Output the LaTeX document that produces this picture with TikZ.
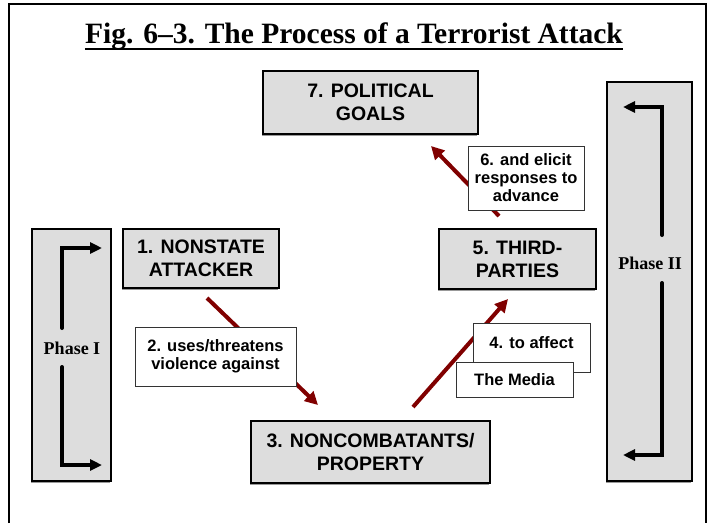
\documentclass[tikz,border=0pt]{standalone}
\usepackage{fontspec}
\setmainfont{Liberation Serif}
\setsansfont{Liberation Sans}
\usetikzlibrary{arrows.meta,shadows}
\definecolor{DarkRed}{HTML}{800000}
\definecolor{BoxGray}{HTML}{DDDDDD}

\begin{document}
\begin{tikzpicture}[x=1pt,y=-1pt,
  stage/.style={draw=black, line width=1.5pt, fill=BoxGray, align=center, inner sep=0pt,
    font=\sffamily\bfseries\fontsize{19.5}{23}\selectfont,
    drop shadow={shadow xshift=-1.2pt, shadow yshift=-1.5pt, fill=gray, opacity=0.8}},
  phasetxt/.style={font=\rmfamily\bfseries\fontsize{18}{20}\selectfont, inner sep=0pt},
  lbl/.style={draw=black!80, line width=0.8pt, fill=white, align=center, inner sep=0pt,
    font=\sffamily\bfseries\fontsize{16.5}{18}\selectfont},
  arr/.style={-{Triangle[length=13pt,width=13pt]}, line width=4pt, DarkRed},
  flow/.style={-{Triangle[length=12pt,width=11pt]}, line width=4pt, line cap=round, black}
]
\useasboundingbox (0,0) rectangle (708,523);
\draw[line width=2pt] (9,523) -- (9,4) -- (706,4) -- (706,523);

\node[anchor=base, inner sep=0pt, font=\rmfamily\bfseries\fontsize{29.5}{32}\selectfont] (title) at (354,43)
  {Fig. 6--3. The Process of a Terrorist Attack};
\draw[line width=2.5pt] ([yshift=-6pt]title.base west) -- ([yshift=-6pt]title.base east);

% phase columns
\node[stage, minimum width=79, minimum height=252] (ph1) at (71.5,355) {};
\node[stage, minimum width=85, minimum height=399] (ph2) at (649.5,281.5) {};
\node[phasetxt] (ph1t) at (72,348) {Phase I};
\node[phasetxt] (ph2t) at (650,263) {Phase II};

\coordinate (p1a) at (62,328);  \coordinate (p1b) at (102,248);
\coordinate (p1c) at (62,367);  \coordinate (p1d) at (102,465);
\coordinate (p2a) at (662,235); \coordinate (p2b) at (623,107);
\coordinate (p2c) at (662,283); \coordinate (p2d) at (623,455);
\draw[flow] (p1a) |- (p1b);
\draw[flow] (p1c) |- (p1d);
\draw[flow] (p2a) |- (p2b);
\draw[flow] (p2c) |- (p2d);

% stages
\node[stage, minimum width=215, minimum height=63] (goals) at (370.5,102.5) {7. POLITICAL\\GOALS};
\node[stage, minimum width=156, minimum height=59] (attacker) at (201,258.5) {1. NONSTATE\\ATTACKER};
\node[stage, minimum width=157, minimum height=60] (third) at (517.5,259) {5. THIRD-\\PARTIES};
\node[stage, minimum width=239, minimum height=62] (victims) at (370.5,452) {3. NONCOMBATANTS/\\PROPERTY};

% red arrows
\coordinate (a2s) at (207,298); \coordinate (a2e) at (318,405);
\coordinate (a4s) at (413,407); \coordinate (a4e) at (508,299);
\coordinate (a6s) at (499,216); \coordinate (a6e) at (431,146);
\draw[arr] (a2s) -- (a2e);
\draw[arr] (a4s) -- (a4e);
\draw[arr] (a6s) -- (a6e);

% labels
\node[lbl, minimum width=161, minimum height=59] (uses) at (215.5,356.5) {2. uses/threatens\\violence against};
\node[lbl, minimum width=116, minimum height=64] (elicit) at (526,178) {6. and elicit\\responses to\\advance};
\node[lbl, minimum width=117, minimum height=49, text height=11.5pt, text depth=9pt] (affect) at (531.5,347.5) {4. to affect};
\node[lbl, minimum width=117, minimum height=35] (media) at (514.5,379.5) {The Media};
\end{tikzpicture}
\end{document}
